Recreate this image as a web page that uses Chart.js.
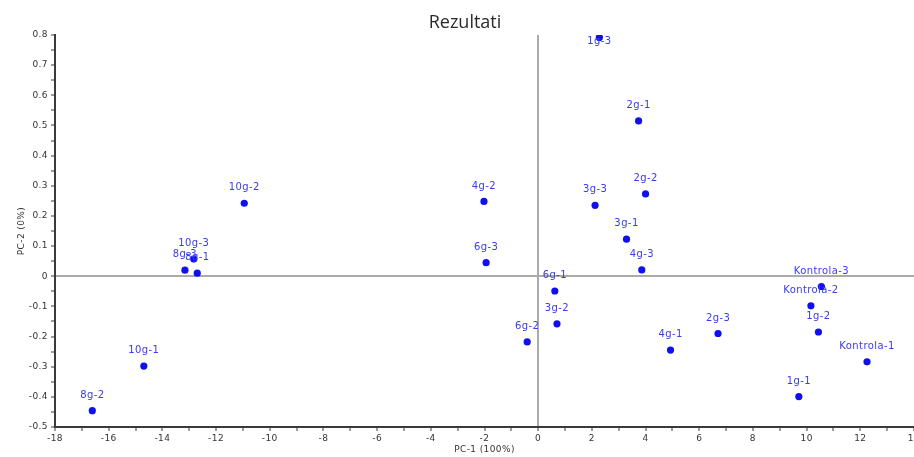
<!DOCTYPE html>
<html>
<head>
<meta charset="utf-8">
<script src="https://cdn.jsdelivr.net/npm/chart.js@4"></script>
<style>
  html, body { margin: 0; padding: 0; background: #ffffff; }
  canvas { display: block; }
</style>
</head>
<body>
<canvas id="pca" width="914" height="457"></canvas>
<script>
// Sample names and their scores on the first two principal components
const sampleNames = [
  '1g-1', '1g-2', '1g-3',
  '2g-1', '2g-2', '2g-3',
  '3g-1', '3g-2', '3g-3',
  '4g-1', '4g-2', '4g-3',
  '6g-1', '6g-2', '6g-3',
  '8g-1', '8g-2', '8g-3',
  '10g-1', '10g-2', '10g-3',
  'Kontrola-1', 'Kontrola-2', 'Kontrola-3'
];
const pc1Scores = [
  9.71, 10.44, 2.28,
  3.74, 4.00, 6.70,
  3.29, 0.70, 2.12,
  4.93, -2.02, 3.86,
  0.62, -0.41, -1.94,
  -12.70, -16.61, -13.16,
  -14.69, -10.95, -12.83,
  12.25, 10.16, 10.55
];
const pc2Scores = [
  -0.399, -0.185, 0.792,
  0.515, 0.273, -0.190,
  0.123, -0.158, 0.235,
  -0.245, 0.248, 0.021,
  -0.049, -0.218, 0.045,
  0.010, -0.446, 0.020,
  -0.298, 0.242, 0.057,
  -0.284, -0.098, -0.034
];

const chartTitle = 'Rezultati';
const xAxisTitle = 'PC-1 (100%)';
const yAxisTitle = 'PC-2 (0%)';

const points = sampleNames.map((name, i) => ({ x: pc1Scores[i], y: pc2Scores[i], name }));

const POINT_BLUE = '#1010ee';
const LABEL_BLUE = '#3a3af0';
const AXIS_DARK = '#3a3a3a';
const ZERO_GRAY = '#ababab';
const TEXT_FONT = "'DejaVu Sans', 'Liberation Sans', sans-serif";

// Slight letter spacing for all canvas text
const spacingPlugin = {
  id: 'spacing',
  beforeDraw(chart) { chart.ctx.letterSpacing = '0.4px'; }
};

// Chart title drawn above the plot area
const titlePlugin = {
  id: 'plotTitle',
  afterDraw(chart) {
    const ctx = chart.ctx;
    ctx.save();
    ctx.letterSpacing = '0px';
    ctx.font = "18px 'Open Sans', 'Noto Sans', sans-serif";
    ctx.fillStyle = '#2a2a2a';
    ctx.textAlign = 'center';
    ctx.textBaseline = 'middle';
    ctx.fillText(chartTitle, 465, 23);
    ctx.restore();
  }
};

// Sample name written above each point, kept inside the plot area
const pointLabelPlugin = {
  id: 'pointLabels',
  afterDatasetsDraw(chart) {
    const ctx = chart.ctx;
    const area = chart.chartArea;
    const meta = chart.getDatasetMeta(0);
    ctx.save();
    ctx.font = '10px ' + TEXT_FONT;
    ctx.fillStyle = LABEL_BLUE;
    ctx.textAlign = 'center';
    ctx.textBaseline = 'middle';
    meta.data.forEach((el, i) => {
      const y = Math.max(el.y - 15.5, area.top + 6);
      ctx.fillText(points[i].name, el.x, y);
    });
    ctx.restore();
  }
};

const isZero = v => Math.abs(v) < 1e-9;
const isMajor = (v, step) => Math.abs(Math.round(v / step) - v / step) < 1e-6;

new Chart(document.getElementById('pca'), {
  type: 'scatter',
  data: {
    datasets: [{
      data: points,
      pointRadius: 3.6,
      pointHoverRadius: 3.6,
      pointBackgroundColor: POINT_BLUE,
      pointBorderWidth: 0,
      showLine: false
    }]
  },
  options: {
    responsive: false,
    animation: false,
    devicePixelRatio: 1,
    layout: { autoPadding: false, padding: { top: 35, left: 0, right: 0, bottom: 0 } },
    plugins: {
      legend: { display: false },
      tooltip: { enabled: false },
      title: { display: false }
    },
    scales: {
      x: {
        type: 'linear',
        min: -18,
        max: 14,
        afterFit(scale) {
          scale.height = 30;
          scale.paddingLeft = 0;
          scale.paddingRight = 0;
        },
        ticks: {
          stepSize: 1,
          autoSkip: false,
          maxRotation: 0,
          padding: 2,
          color: '#333333',
          font: { family: TEXT_FONT, size: 9 },
          callback: v => isMajor(v, 2) ? String(v) : ''
        },
        grid: {
          drawOnChartArea: true,
          color: c => (c.tick && isZero(c.tick.value)) ? ZERO_GRAY : 'rgba(0,0,0,0)',
          lineWidth: 2,
          tickColor: AXIS_DARK,
          tickWidth: 1,
          tickLength: 4
        },
        border: { display: true, color: AXIS_DARK, width: 2 },
        title: {
          display: true,
          text: xAxisTitle,
          color: '#333333',
          font: { family: TEXT_FONT, size: 9 },
          padding: { top: 0, bottom: 2 }
        }
      },
      y: {
        type: 'linear',
        min: -0.5,
        max: 0.8,
        afterFit(scale) {
          scale.width = 55;
          scale.paddingTop = 0;
          scale.paddingBottom = 0;
        },
        ticks: {
          stepSize: 0.05,
          autoSkip: false,
          padding: 3,
          color: '#333333',
          font: { family: TEXT_FONT, size: 9 },
          callback: v => isMajor(v, 0.1) ? String(Math.round(v * 10) / 10) : ''
        },
        grid: {
          drawOnChartArea: true,
          color: c => (c.tick && isZero(c.tick.value)) ? ZERO_GRAY : 'rgba(0,0,0,0)',
          lineWidth: 2,
          tickColor: AXIS_DARK,
          tickWidth: 1,
          tickLength: 4
        },
        border: { display: true, color: AXIS_DARK, width: 2 },
        title: {
          display: true,
          text: yAxisTitle,
          color: '#333333',
          font: { family: TEXT_FONT, size: 9 },
          padding: { top: 16, bottom: 0 }
        }
      }
    }
  },
  plugins: [spacingPlugin, pointLabelPlugin, titlePlugin]
});
</script>
</body>
</html>
